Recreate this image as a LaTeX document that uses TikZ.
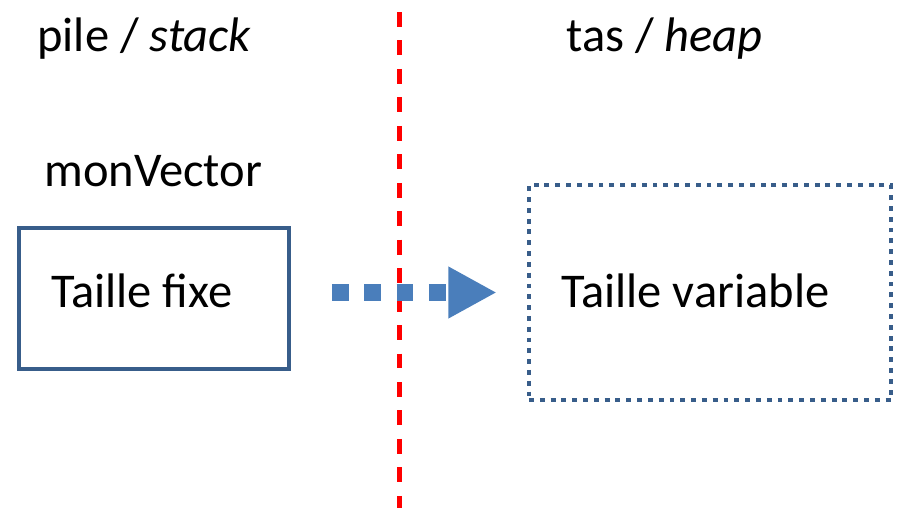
\documentclass[tikz,border=0pt]{standalone}
\usepackage{fontspec}
\setmainfont{Carlito}
\usepackage{xcolor}
\usepackage{tikz}
\usetikzlibrary{arrows.meta}

\definecolor{boxblue}{HTML}{385D8A}
\definecolor{flowblue}{HTML}{4A7EBB}
\definecolor{sepred}{HTML}{FF0000}

\begin{document}
\begin{tikzpicture}[
  x=0.02cm,y=-0.02cm,
  every node/.style={font=\fontsize{27.6}{33}\selectfont},
  txt/.style={inner sep=0pt,anchor=base west},
  fixbox/.style={draw=boxblue,line width=2.5pt,minimum width=5.4cm,minimum height=2.82cm,inner sep=0pt},
  varbox/.style={draw=boxblue,line width=2.8pt,dash pattern=on 2.8pt off 3.35pt,minimum width=7.24cm,minimum height=4.3cm,inner sep=0pt},
  flow/.style={draw=flowblue,line width=9.6pt,dash pattern=on 9.6pt off 8.8pt,
    -{Triangle[length=27.5pt,width=27.5pt,fill=flowblue]},shorten <=23.2pt,shorten >=17pt},
  divider/.style={draw=sepred,line width=2.3pt,dash pattern=on 8.5pt off 7.7pt}
]
\useasboundingbox (0,0) rectangle (900,508);

% separation pile / tas
\coordinate (sepTop) at (399.5,12);
\coordinate (sepBot) at (399.5,508);
\draw[divider] (sepTop) -- (sepBot);

\node[txt] (pile) at (37,51) {pile / \textit{stack}};
\node[txt] (tas) at (566,51) {tas / \textit{heap}};

\node[txt] (nom) at (44,186) {monVector};
\node[fixbox] (fixe) at (154,298.5) {};
\node[txt] (fixeTxt) at (51,307) {Taille fixe};

\node[varbox] (var) at (710,292.5) {};
\node[txt] (varTxt) at (561,307) {Taille variable};

\draw[flow] (fixe.east |- var.west) -- (var.west);
\end{tikzpicture}
\end{document}
